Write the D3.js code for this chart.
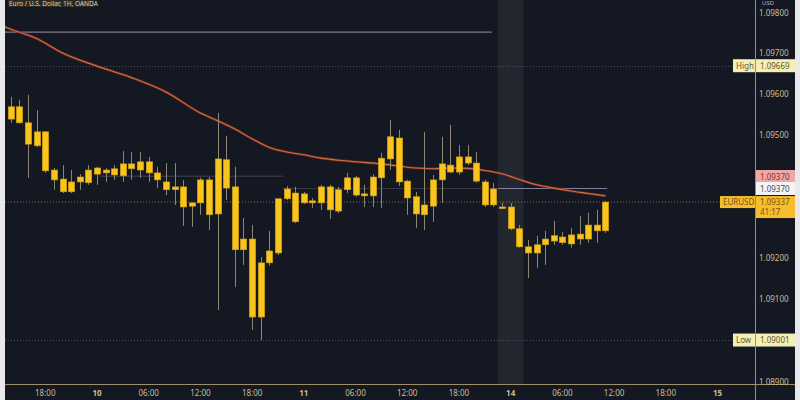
<!DOCTYPE html>
<html>
<head>
<meta charset="utf-8">
<script src="https://cdn.jsdelivr.net/npm/d3@7"></script>
<style>
html,body{margin:0;padding:0;background:#e9e9ec;}
svg{display:block;}
text{font-family:"Noto Sans","DejaVu Sans",sans-serif;}
</style>
</head>
<body>
<svg id="chart" width="800" height="400"></svg>
<script>
// ---- data (hourly bars, EUR/USD, 9 Aug 14:00 -> 14 Aug 11:00) ----
const barIndex = d3.range(70);
const open  = [1.09539,1.09569,1.09530,1.09474,1.09508,1.09415,1.09393,1.09362,1.09386,1.09384,
               1.09405,1.09415,1.09403,1.09401,1.09430,1.09415,1.09435,1.09408,1.09386,1.09367,
               1.09374,1.09327,1.09335,1.09391,1.09308,1.09440,1.09374,1.09221,1.09247,1.09057,
               1.09189,1.09213,1.09345,1.09359,1.09335,1.09340,1.09335,1.09374,1.09315,1.09367,
               1.09396,1.09352,1.09352,1.09396,1.09442,1.09493,1.09388,1.09350,1.09306,1.09327,
               1.09391,1.09427,1.09410,1.09447,1.09432,1.09386,1.09330,1.09325,1.09325,1.09272,
               1.09228,1.09213,1.09233,1.09242,1.09252,1.09235,1.09247,1.09247,1.09281,1.09267];
const high  = [1.09593,1.09586,1.09598,1.09561,1.09510,1.09420,1.09427,1.09415,1.09405,1.09427,
               1.09423,1.09420,1.09427,1.09461,1.09459,1.09459,1.09447,1.09423,1.09432,1.09432,
               1.09391,1.09337,1.09396,1.09398,1.09554,1.09498,1.09423,1.09298,1.09281,1.09203,
               1.09267,1.09345,1.09376,1.09374,1.09362,1.09347,1.09379,1.09379,1.09374,1.09408,
               1.09401,1.09379,1.09405,1.09457,1.09537,1.09513,1.09391,1.09362,1.09508,1.09403,
               1.09496,1.09525,1.09476,1.09476,1.09459,1.09391,1.09384,1.09335,1.09335,1.09281,
               1.09245,1.09255,1.09267,1.09291,1.09264,1.09274,1.09303,1.09311,1.09318,1.09340];
const low   = [1.09530,1.09528,1.09396,1.09471,1.09408,1.09367,1.09359,1.09359,1.09367,1.09379,
               1.09379,1.09386,1.09391,1.09386,1.09391,1.09396,1.09386,1.09371,1.09354,1.09330,
               1.09279,1.09277,1.09306,1.09269,1.09074,1.09342,1.09130,1.09184,1.09026,1.09001,
               1.09182,1.09208,1.09342,1.09286,1.09333,1.09323,1.09318,1.09296,1.09310,1.09359,
               1.09350,1.09325,1.09325,1.09323,1.09415,1.09376,1.09306,1.09274,1.09269,1.09289,
               1.09335,1.09408,1.09403,1.09427,1.09384,1.09325,1.09325,1.09320,1.09269,1.09226,
               1.09152,1.09177,1.09184,1.09233,1.09233,1.09226,1.09233,1.09238,1.09238,1.09262];
const close = [1.09569,1.09530,1.09478,1.09508,1.09413,1.09391,1.09362,1.09386,1.09398,1.09415,
               1.09420,1.09408,1.09418,1.09430,1.09418,1.09435,1.09408,1.09391,1.09367,1.09374,
               1.09325,1.09335,1.09391,1.09306,1.09442,1.09371,1.09221,1.09247,1.09057,1.09189,
               1.09218,1.09345,1.09369,1.09289,1.09357,1.09335,1.09374,1.09318,1.09367,1.09396,
               1.09354,1.09357,1.09398,1.09444,1.09496,1.09386,1.09347,1.09308,1.09330,1.09391,
               1.09430,1.09410,1.09447,1.09432,1.09388,1.09330,1.09369,1.09323,1.09272,1.09228,
               1.09213,1.09233,1.09247,1.09255,1.09238,1.09257,1.09259,1.09281,1.09267,1.09337];

// moving average (read at selected bars)
const maIndex = [-1,0,3,6,10,14,18,22,24,26,28,30,32,34,36,39,43,47,49,51,53,55,57,59,61,63,65,67,69];
const maValue = [1.09766,1.09758,1.09735,1.09700,1.09668,1.09640,1.09605,1.09554,1.09535,1.09515,
                 1.09491,1.09470,1.09459,1.09452,1.09444,1.09437,1.09430,1.09420,1.09418,1.09420,
                 1.09419,1.09414,1.09406,1.09392,1.09379,1.09371,1.09364,1.09358,1.09352];

// price axis
const yTickValues = [1.09800,1.09700,1.09600,1.09500,1.09200,1.09100,1.08900];
// time axis
const xTickIndex = [4,10,16,22,28,34,40,46,52,58,64,70,76,82];
const xTickLabel = ["18:00","10","06:00","12:00","18:00","11","06:00","12:00","18:00","14","06:00","12:00","18:00","15"];
const xTickBold  = [false,true,false,false,false,true,false,false,false,true,false,false,false,true];

// levels
const highPrice = 1.09669, lowPrice = 1.09001, lastPrice = 1.09337, countdown = "41:17";
const levelPrices = [1.09751, 1.09400, 1.09370, 1.09370];
const levelStart  = [-2, 10.4, 31.5, 56.5];
const levelEnd    = [55.8, 31.6, 56.5, 69.2];
const sessionBand = [56.5, 59.5];
const title = "Euro / U.S. Dollar, 1H, OANDA";

// ---- drawing ----
const svg = d3.select("#chart");
const L = 5, R = 755, T = 0, B = 384;
const x = d3.scaleLinear().domain([0, 82]).range([10.8, 717.5]);
const y = d3.scaleLinear().domain([1.08894, 1.09829]).range([B, T]);

svg.append("defs").append("clipPath").attr("id","plot")
  .append("rect").attr("x",L).attr("y",T).attr("width",R-L).attr("height",B-T);

// background
svg.append("rect").attr("x",L).attr("y",0).attr("width",795-L).attr("height",400).attr("fill","#141822");

const g = svg.append("g").attr("clip-path","url(#plot)");

// session band
g.append("rect").attr("x",x(sessionBand[0])).attr("y",T)
  .attr("width",x(sessionBand[1])-x(sessionBand[0])).attr("height",B-T)
  .attr("fill","#22262f");

// high/low dotted lines
[highPrice, lowPrice].forEach(p=>{
  g.append("line").attr("x1",L).attr("x2",R).attr("y1",Math.round(y(p))+0.5).attr("y2",Math.round(y(p))+0.5)
   .attr("stroke","#4b505c").attr("stroke-width",1).attr("stroke-dasharray","1,2");
});

// level lines
const levelStyle = [
  {c:"#8e8299",o:0.9,w:1.2},
  {c:"#5a5560",o:0.7,w:1},
  {c:"#4e4a58",o:0.6,w:1},
  {c:"#8a84a6",o:0.95,w:1.2}
];
levelPrices.forEach((p,i)=>{
  g.append("line").attr("x1",x(levelStart[i])).attr("x2",x(levelEnd[i]))
   .attr("y1",y(p)).attr("y2",y(p))
   .attr("stroke",levelStyle[i].c).attr("stroke-opacity",levelStyle[i].o).attr("stroke-width",levelStyle[i].w);
});

// last price dotted line
g.append("line").attr("x1",L).attr("x2",R).attr("y1",y(lastPrice)).attr("y2",y(lastPrice))
  .attr("stroke","#b8843c").attr("stroke-opacity",0.75).attr("stroke-width",1).attr("stroke-dasharray","1,2");

// moving average
const maPts = maIndex.map((d,i)=>[d, maValue[i]]);
const line = d3.line().x(d=>x(d[0])).y(d=>y(d[1])).curve(d3.curveMonotoneX);
g.append("path").datum(maPts).attr("d",line).attr("fill","none")
  .attr("stroke","#7a2d1e").attr("stroke-width",2.6).attr("stroke-opacity",0.8);
g.append("path").datum(maPts).attr("d",line).attr("fill","none")
  .attr("stroke","#cf6d42").attr("stroke-width",1.1);

// candles
const bars = barIndex.map(i=>({i, o:open[i], h:high[i], l:low[i], c:close[i]}));
const bw = 6.4;
const cg = g.append("g");
cg.selectAll("line.wick").data(bars).join("line").attr("class","wick")
  .attr("x1",d=>Math.round(x(d.i))+0.5).attr("x2",d=>Math.round(x(d.i))+0.5)
  .attr("y1",d=>y(d.h)).attr("y2",d=>y(d.l))
  .attr("stroke","#8f8672").attr("stroke-width",1);
cg.selectAll("rect.body").data(bars).join("rect").attr("class","body")
  .attr("x",d=>Math.round(x(d.i))+0.5-bw/2)
  .attr("y",d=>y(Math.max(d.o,d.c)))
  .attr("width",bw)
  .attr("height",d=>Math.max(1.6, Math.abs(y(d.o)-y(d.c))))
  .attr("fill","#f9c51d").attr("stroke","#c99a12").attr("stroke-width",0.6);

// axes lines
svg.append("line").attr("x1",L).attr("x2",795).attr("y1",B+0.5).attr("y2",B+0.5)
  .attr("stroke","#9c8f6c").attr("stroke-width",1);
svg.append("line").attr("x1",R+0.5).attr("x2",R+0.5).attr("y1",0).attr("y2",400)
  .attr("stroke","#9c8f6c").attr("stroke-width",1);

// price axis labels
const yAxis = d3.axisRight(y).tickValues(yTickValues).tickFormat(d3.format(".5f")).tickSize(0).tickPadding(4);
const ya = svg.append("g").attr("transform",`translate(${R},0)`).call(yAxis);
ya.select(".domain").remove();
ya.selectAll("text").attr("fill","#cdbd8c").attr("font-size","8px");
ya.selectAll(".tick").filter(d=>d===yTickValues[0]).select("text").attr("dy","0.5em");

// time axis labels
const xa = svg.append("g");
xTickIndex.forEach((d,i)=>{
  xa.append("text").attr("x",x(d)).attr("y",396).attr("text-anchor","middle")
    .attr("font-size","8px").attr("font-weight",xTickBold[i]?"bold":"normal")
    .attr("fill","#cdbd8c").text(xTickLabel[i]);
});
// mask time labels under price scale
svg.append("rect").attr("x",R+1).attr("y",B+1).attr("width",795-R-1).attr("height",15).attr("fill","#141822");

// USD
svg.append("text").attr("x",762).attr("y",5).attr("font-size","6px").attr("fill","#aeb6c8").text("USD");

// title
svg.append("rect").attr("x",8).attr("y",0).attr("width",86).attr("height",7).attr("fill","#2a2a26");
svg.append("text").attr("x",9).attr("y",6).attr("font-size","6.5px").attr("fill","#e4d39f").text(title);

// label helper
function tag(yc, label, value, bg, fg, leftX){
  const h = 13;
  if(label){
    svg.append("rect").attr("x",leftX).attr("y",yc-h/2).attr("width",R-leftX).attr("height",h).attr("fill",bg);
    svg.append("text").attr("x",leftX+3).attr("y",yc+3).attr("font-size","8px").attr("fill",fg).text(label);
  }
  svg.append("rect").attr("x",R+1).attr("y",yc-h/2).attr("width",795-R-1).attr("height",h).attr("fill",bg);
  svg.append("text").attr("x",R+5).attr("y",yc+3).attr("font-size","8px").attr("fill",fg).text(value);
}
const f5 = d3.format(".5f");
tag(y(highPrice), "High", f5(highPrice), "#f6efb3", "#5d5632", 733);
tag(y(lowPrice), "Low", f5(lowPrice), "#f6efb3", "#5d5632", 733);
tag(y(levelPrices[3])-12, null, f5(levelPrices[3]), "#f2a7a4", "#7a3434");
tag(y(levelPrices[3]), null, f5(levelPrices[3]), "#f4f4f4", "#4a4a4a");

// last price tag (two rows)
const ly = y(lastPrice);
svg.append("rect").attr("x",720).attr("y",ly-6).attr("width",R-720).attr("height",12).attr("fill","#f6bd2c");
svg.append("text").attr("x",723).attr("y",ly+3).attr("font-size","8px").attr("fill","#7a5212").text("EURUSD");
svg.append("rect").attr("x",R+1).attr("y",ly-6).attr("width",795-R-1).attr("height",22).attr("fill","#f6bd2c");
svg.append("text").attr("x",R+5).attr("y",ly+3).attr("font-size","8px").attr("fill","#7a5212").text(f5(lastPrice));
svg.append("text").attr("x",R+5).attr("y",ly+13).attr("font-size","8px").attr("fill","#7a5212").text(countdown);
</script>
</body>
</html>
